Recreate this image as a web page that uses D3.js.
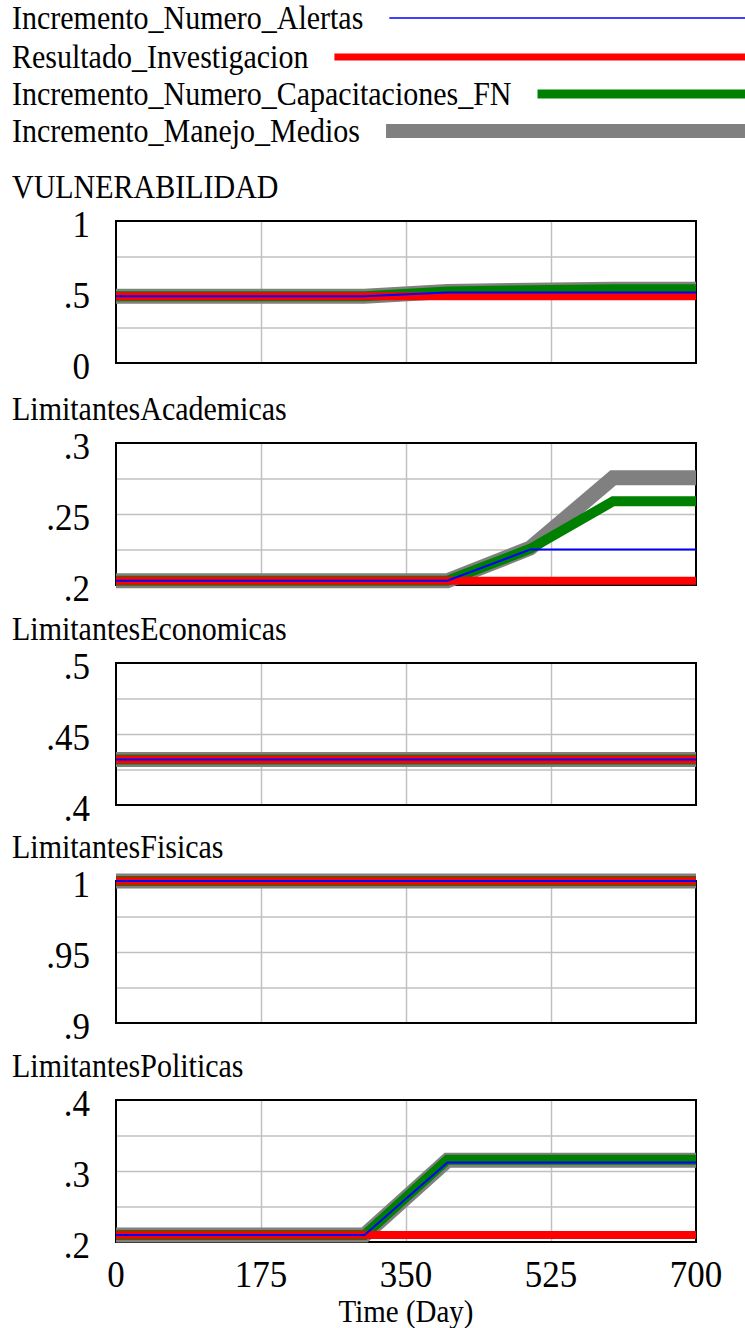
<!DOCTYPE html>
<html>
<head>
<meta charset="utf-8">
<script src="https://cdn.jsdelivr.net/npm/d3@7"></script>
<style>
  html, body { margin: 0; padding: 0; background: #fff; }
  svg { display: block; }
  svg text { font-family: "Liberation Serif", "Times New Roman", Tinos, "DejaVu Serif", serif; }
</style>
</head>
<body>
<svg id="chart" width="745" height="1328"></svg>
<script>
// Simulation time (days), sampled every 100 days
const times = [0, 100, 200, 300, 400, 500, 600, 700];

// Scenario names, in drawing order of the legend
const scenarios = [
  "Incremento_Numero_Alertas",
  "Resultado_Investigacion",
  "Incremento_Numero_Capacitaciones_FN",
  "Incremento_Manejo_Medios"
];

// Each panel: one row per scenario (same order as `scenarios`)
const vulnerabilidad = [
  [0.47, 0.47, 0.47, 0.47, 0.496, 0.496, 0.496, 0.496],
  [0.47, 0.47, 0.47, 0.47, 0.47, 0.47, 0.47, 0.47],
  [0.47, 0.47, 0.47, 0.47, 0.504, 0.513, 0.52, 0.52],
  [0.47, 0.47, 0.47, 0.47, 0.504, 0.512, 0.519, 0.519]
];
const limitantesAcademicas = [
  [0.203, 0.203, 0.203, 0.203, 0.203, 0.225, 0.225, 0.225],
  [0.203, 0.203, 0.203, 0.203, 0.203, 0.203, 0.203, 0.203],
  [0.203, 0.203, 0.203, 0.203, 0.203, 0.2255, 0.259, 0.259],
  [0.203, 0.203, 0.203, 0.203, 0.203, 0.226, 0.2755, 0.2755]
];
const limitantesEconomicas = [
  [0.432, 0.432, 0.432, 0.432, 0.432, 0.432, 0.432, 0.432],
  [0.432, 0.432, 0.432, 0.432, 0.432, 0.432, 0.432, 0.432],
  [0.432, 0.432, 0.432, 0.432, 0.432, 0.432, 0.432, 0.432],
  [0.432, 0.432, 0.432, 0.432, 0.432, 0.432, 0.432, 0.432]
];
const limitantesFisicas = [
  [1, 1, 1, 1, 1, 1, 1, 1],
  [1, 1, 1, 1, 1, 1, 1, 1],
  [1, 1, 1, 1, 1, 1, 1, 1],
  [1, 1, 1, 1, 1, 1, 1, 1]
];
const limitantesPoliticas = [
  [0.21, 0.21, 0.21, 0.21, 0.312, 0.312, 0.312, 0.312],
  [0.21, 0.21, 0.21, 0.21, 0.21, 0.21, 0.21, 0.21],
  [0.21, 0.21, 0.21, 0.21, 0.316, 0.316, 0.316, 0.316],
  [0.21, 0.21, 0.21, 0.21, 0.315, 0.315, 0.315, 0.315]
];

const panelTitles = ["VULNERABILIDAD", "LimitantesAcademicas", "LimitantesEconomicas", "LimitantesFisicas", "LimitantesPoliticas"];
const panelData = [vulnerabilidad, limitantesAcademicas, limitantesEconomicas, limitantesFisicas, limitantesPoliticas];
const yDomains = [[0, 1], [0.2, 0.3], [0.4, 0.5], [0.9, 1], [0.2, 0.4]];
const yTickLabels = [["0", ".5", "1"], [".2", ".25", ".3"], [".4", ".45", ".5"], [".9", ".95", "1"], [".2", ".3", ".4"]];
const xTicks = [0, 175, 350, 525, 700];
const xLabel = "Time (Day)";

// Styling per scenario
const colors = ["#0000ff", "#ff0000", "#008000", "#808080"];
const widths = [2, 8, 10, 15];
const legendWidths = [1.5, 7, 9, 14];

const svg = d3.select("#chart");
const W = 745;
const textSize = 30;
const tickSize = 35;

// Text glyphs are drawn slightly taller than wide
const stretch = 1.1;
function label(sel, xPos, yPos, str, anchor, size) {
  return sel.append("text")
    .attr("transform", `translate(${xPos},${yPos}) scale(1,${stretch})`)
    .attr("text-anchor", anchor || "start")
    .attr("font-size", size || textSize)
    .attr("fill", "#000")
    .text(str);
}

// Legend
const legendRowY = [18, 57, 94, 131];
scenarios.forEach((name, i) => {
  const t = label(svg, 12, legendRowY[i] + 11, name);
  const len = t.node().getComputedTextLength();
  svg.append("line")
    .attr("x1", 12 + len + 26)
    .attr("x2", W)
    .attr("y1", legendRowY[i])
    .attr("y2", legendRowY[i])
    .attr("stroke", colors[i])
    .attr("stroke-width", legendWidths[i]);
});

// Panels
const left = 116, right = 696;
const panelTops = [221, 443, 663, 881, 1100];
const panelH = 142;
const x = d3.scaleLinear().domain([0, 700]).range([left, right]);

panelData.forEach((rows, p) => {
  const top = panelTops[p];
  const bottom = top + panelH;
  const y = d3.scaleLinear().domain(yDomains[p]).range([bottom, top]);
  const g = svg.append("g");

  // title
  label(g, 12, top - 23, panelTitles[p]);

  // grid
  const yGrid = d3.range(1, 4).map(k => yDomains[p][0] + k * (yDomains[p][1] - yDomains[p][0]) / 4);
  g.append("g")
    .attr("transform", `translate(0,${bottom})`)
    .call(d3.axisBottom(x).tickValues(xTicks.slice(1, -1)).tickSize(-panelH).tickFormat(""))
    .call(a => a.select(".domain").remove())
    .call(a => a.selectAll("line").attr("stroke", "#c0c0c0").attr("stroke-width", 1.5));
  g.append("g")
    .attr("transform", `translate(${left},0)`)
    .call(d3.axisLeft(y).tickValues(yGrid).tickSize(-(right - left)).tickFormat(""))
    .call(a => a.select(".domain").remove())
    .call(a => a.selectAll("line").attr("stroke", "#c0c0c0").attr("stroke-width", 1.5));

  // frame
  g.append("rect")
    .attr("x", left).attr("y", top)
    .attr("width", right - left).attr("height", panelH)
    .attr("fill", "none").attr("stroke", "#000").attr("stroke-width", 2);

  // y labels (bottom, middle, top)
  const yLabVals = [yDomains[p][0], (yDomains[p][0] + yDomains[p][1]) / 2, yDomains[p][1]];
  yLabVals.forEach((v, k) => {
    label(g, 90, y(v) + 16, yTickLabels[p][k], "end", tickSize);
  });

  // series: wide gray at the back, thin blue on top
  const line = d3.line().x((d, i) => x(times[i])).y(d => y(d));
  [3, 2, 1, 0].forEach(s => {
    g.append("path")
      .datum(rows[s])
      .attr("d", line)
      .attr("fill", "none")
      .attr("stroke", colors[s])
      .attr("stroke-width", widths[s])
      .attr("stroke-linejoin", "miter");
  });

  // time axis on the last panel
  if (p === panelData.length - 1) {
    xTicks.forEach(t => {
      label(g, x(t), bottom + 45, String(t), "middle", tickSize);
    });
    label(g, (left + right) / 2, bottom + 80, xLabel, "middle", 29);
  }
});
</script>
</body>
</html>
